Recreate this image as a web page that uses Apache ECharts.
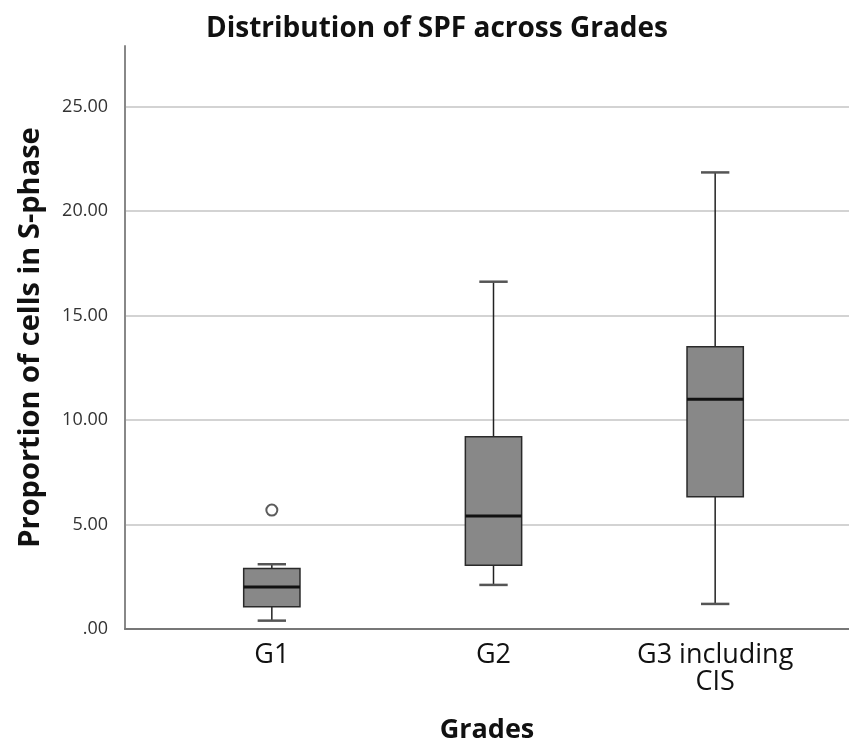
<!DOCTYPE html>
<html lang="en">
<head>
    <meta charset="UTF-8">
    <title>Distribution of SPF across Grades</title>
    <script src="https://cdn.jsdelivr.net/npm/echarts@6/dist/echarts.min.js"></script>
    <style>
        body { margin: 0; padding: 0; overflow: hidden; background: #fff; }
    </style>
</head>
<body>
    <div id="main" style="width: 849px;height:749px;"></div>
<script>
    // data
    var grades = ['G1', 'G2', 'G3 including\nCIS'];
    var lowWhisker = [0.40, 2.11, 1.20];
    var q1 = [1.07, 3.05, 6.33];
    var median = [2.01, 5.41, 10.99];
    var q3 = [2.90, 9.20, 13.51];
    var highWhisker = [3.10, 16.62, 21.85];
    var outliers = [[0, 5.69]]; // [grade index, value]
    var yMax = 27.9;
    var yStep = 5;

    var boxData = [];
    for (var i = 0; i < grades.length; i++) {
        boxData.push([i, lowWhisker[i], q1[i], median[i], q3[i], highWhisker[i]]);
    }

    var font = 'Open Sans';
    var app = echarts.init(document.getElementById('main'));

    function renderBox(params, api) {
        var x = api.value(0);
        var lo = api.coord([x, api.value(1)]);
        var b1 = api.coord([x, api.value(2)]);
        var md = api.coord([x, api.value(3)]);
        var b3 = api.coord([x, api.value(4)]);
        var hi = api.coord([x, api.value(5)]);
        var band = api.size([1, 0])[0];
        var hw = band * 0.127; // half box width
        var cw = band * 0.064; // half cap width
        var cx = lo[0];
        return {
            type: 'group',
            children: [
                { type: 'line', shape: { x1: cx, y1: b3[1], x2: cx, y2: hi[1] },
                  style: { stroke: '#222', lineWidth: 1.5 } },
                { type: 'line', shape: { x1: cx, y1: lo[1], x2: cx, y2: b1[1] },
                  style: { stroke: '#222', lineWidth: 1.5 } },
                { type: 'line', shape: { x1: cx - cw, y1: hi[1], x2: cx + cw, y2: hi[1] },
                  style: { stroke: '#555', lineWidth: 2.5 } },
                { type: 'line', shape: { x1: cx - cw, y1: lo[1], x2: cx + cw, y2: lo[1] },
                  style: { stroke: '#555', lineWidth: 2.5 } },
                { type: 'rect', shape: { x: cx - hw, y: b3[1], width: hw * 2, height: b1[1] - b3[1] },
                  style: { fill: '#888888', stroke: '#2a2a2a', lineWidth: 1.5 } },
                { type: 'line', shape: { x1: cx - hw, y1: md[1], x2: cx + hw, y2: md[1] },
                  style: { stroke: '#111', lineWidth: 3 } }
            ]
        };
    }

    option = {
        animation: false,
        title: {
            text: 'Distribution of SPF across Grades',
            left: 432,
            top: 10,
            textAlign: 'center',
            textStyle: { fontFamily: font, fontSize: 28, fontWeight: 'bold', color: '#111' }
        },
        grid: [
            // gridlines + bottom axis line, full width
            { left: 125, right: 0, top: 629 - 25 * 20.9, bottom: 120 },
            // boxes, offset to match category spacing
            { left: 161, right: 23, top: 46, bottom: 120 }
        ],
        xAxis: [{
            gridIndex: 0,
            type: 'value',
            min: 0,
            max: 1,
            axisLine: { show: true, onZero: false, lineStyle: { color: '#777', width: 2 } },
            axisTick: { show: false },
            axisLabel: { show: false },
            splitLine: { show: false },
            name: 'Grades',
            nameLocation: 'middle',
            nameGap: 88,
            nameTextStyle: { fontFamily: font, fontSize: 27, fontWeight: 'bold', color: '#111' }
        }, {
            gridIndex: 1,
            type: 'category',
            data: grades,
            axisLine: { show: false },
            axisTick: { show: false },
            axisLabel: { fontFamily: font, fontSize: 27, color: '#111', margin: 13, lineHeight: 27 }
        }],
        yAxis: [{
            gridIndex: 0,
            type: 'value',
            min: 0,
            max: 25,
            interval: yStep,
            axisLine: { show: false },
            axisTick: { show: false },
            axisLabel: { show: false },
            splitLine: { lineStyle: { color: '#c4c4c4', width: 1.5 } }
        }, {
            gridIndex: 1,
            type: 'value',
            min: 0,
            max: yMax,
            interval: yStep,
            offset: 36,
            axisLine: { show: true, lineStyle: { color: '#888', width: 2 } },
            axisTick: { show: false },
            splitLine: { show: false },
            axisLabel: {
                showMaxLabel: false,
                margin: 17,
                fontFamily: font,
                fontSize: 18,
                color: '#333',
                formatter: function (v) {
                    var s = v.toFixed(2);
                    return s.charAt(0) === '0' ? s.slice(1) : s;
                }
            },
            name: 'Proportion of cells in S-phase',
            nameLocation: 'middle',
            nameGap: 80,
            nameTextStyle: { fontFamily: font, fontSize: 29, fontWeight: 'bold', color: '#111' }
        }],
        series: [{
            type: 'custom',
            xAxisIndex: 1,
            yAxisIndex: 1,
            renderItem: renderBox,
            data: boxData
        }, {
            type: 'scatter',
            xAxisIndex: 1,
            yAxisIndex: 1,
            symbol: 'emptyCircle',
            symbolSize: 11,
            itemStyle: { color: '#333', borderWidth: 1.5 },
            data: outliers
        }]
    };
    app.setOption(option);
</script>
</body>
</html>
